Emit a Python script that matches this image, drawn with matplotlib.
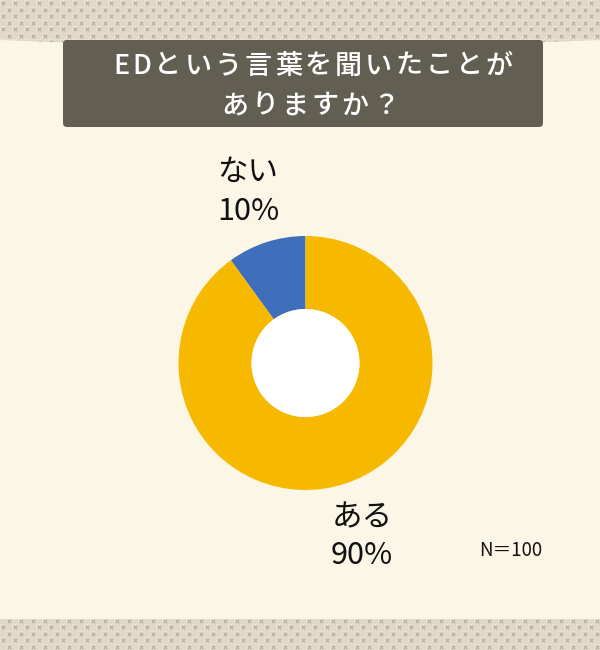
import matplotlib
matplotlib.use("Agg")
import matplotlib.pyplot as plt
import numpy as np
from matplotlib.patches import Polygon, FancyBboxPatch, Circle, Rectangle

plt.rcParams["font.family"] = ["Noto Sans CJK JP", "DejaVu Sans"]

# data
title_lines = ["EDという言葉を聞いたことが", "ありますか？"]
labels = ["ない", "ある"]
values = [10, 90]
colors = ["#3F6EBB", "#F7B900"]
sample_note = "N＝100"

W, H = 600, 650
fig = plt.figure(figsize=(W / 100, H / 100), dpi=100)
ax = fig.add_axes([0, 0, 1, 1])
ax.set_xlim(0, W)
ax.set_ylim(0, H)
ax.set_aspect("equal")
ax.axis("off")


def py(y):
    # pixel row from the top -> data y
    return H - y


# patterned background
ax.add_patch(Rectangle((0, 0), W, H, facecolor="#E0D9C8", edgecolor="none", zorder=0))
gx, gy = [], []
for j in range(0, 102):
    for i in range(0, 52):
        gx.append(12 * i + (j % 2) * 6 + 3)
        gy.append(6.5 * j + 3)
gx, gy = np.array(gx), np.array(gy)
# light squares behind each mark
ax.scatter(gx, py(gy), marker="s", s=22, linewidths=0, color="#E7E1D2", zorder=0.5)
ax.scatter(gx, py(gy), marker="x", s=7, linewidths=0.9, color="#B8B0A0", zorder=1)

# cream panel
panel = Polygon([(0, py(40)), (150, py(46)), (300, py(49)), (450, py(46)), (600, py(40)),
                 (600, py(619)), (0, py(619))], closed=True,
                facecolor="#FCF6E7", edgecolor="none", zorder=2)
ax.add_patch(panel)

# title box
ax.add_patch(FancyBboxPatch((63 + 4, py(127) + 4), 480 - 8, 87 - 8,
                            boxstyle="round,pad=4", facecolor="#635E52",
                            edgecolor="none", zorder=3))

renderer = fig.canvas.get_renderer()


def spaced_text(s, cx, cy, size, spacing, color):
    items = []
    widths = []
    for ch in s:
        t = ax.text(0, cy, ch, fontsize=size, color=color, ha="left", va="center",
                    fontweight="medium", zorder=5)
        bb = t.get_window_extent(renderer=renderer)
        items.append(t)
        widths.append(bb.width)
    total = sum(widths) + spacing * (len(s) - 1)
    x = cx - total / 2
    for t, w in zip(items, widths):
        t.set_x(x)
        x += w + spacing


spaced_text(title_lines[0], 313, py(66), 19.5, 3.0, "white")
spaced_text(title_lines[1], 310, py(106), 19.5, 3.0, "white")

# donut
cx, cy, r = 305.5, py(363), 127
wedges, _ = ax.pie(values, colors=colors, startangle=90, counterclock=True, center=(cx, cy),
                   radius=r, wedgeprops=dict(width=r * 0.575, linewidth=0), frame=True)
for w in wedges:
    w.set_zorder(4)
ax.add_patch(Circle((cx, cy), r * 0.425, facecolor="white", edgecolor="none", zorder=4.5))
ax.set_xlim(0, W)
ax.set_ylim(0, H)
ax.axis("off")

# labels
lab_pos = [(248, 172, 212), (362, 518, 556)]
for lab, v, (lx, ly1, ly2) in zip(labels, values, lab_pos):
    ax.text(lx, py(ly1), lab, fontsize=22, ha="center", va="center", color="#111111",
            zorder=5)
    ax.text(lx, py(ly2), f"{v}%", fontsize=22, ha="center", va="center", color="#111111",
            zorder=5)

ax.text(511, py(550), sample_note, fontsize=13.5, ha="center", va="center", color="#111111", zorder=5)

fig.savefig("out.png", dpi=100)
